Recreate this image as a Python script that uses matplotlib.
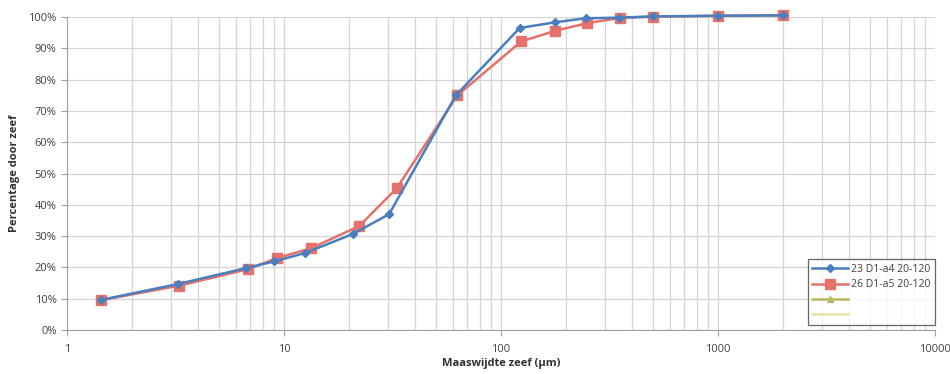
import matplotlib
matplotlib.use('Agg')
import matplotlib.pyplot as plt
from matplotlib.ticker import FixedLocator, LogLocator, NullFormatter

plt.rcParams['font.family'] = ['Open Sans', 'DejaVu Sans']

# Zeefdata
x_a4 = [1.43, 3.25, 6.7, 9.0, 12.5, 20.8, 30.5, 62, 122, 177, 246, 350, 500, 1000, 2000]
y_a4 = [9.6, 14.7, 19.8, 21.9, 24.6, 30.7, 37.0, 75.0, 96.5, 98.3, 99.6, 99.8, 100.2, 100.4, 100.5]
x_a5 = [1.43, 3.3, 6.8, 9.3, 13.3, 22.2, 33.1, 63, 124, 178, 248, 352, 500, 1000, 2000]
y_a5 = [9.5, 14.2, 19.4, 23.0, 26.1, 33.2, 45.3, 75.0, 92.2, 95.6, 98.0, 99.7, 100.1, 100.4, 100.6]

labels = ['23 D1-a4 20-120', '26 D1-a5 20-120', ' ', ' ']
y_ticks = list(range(0, 101, 10))
x_ticks = [1, 10, 100, 1000, 10000]

fig = plt.figure(figsize=(9.5, 3.74), dpi=100)
ax = fig.add_axes([0.0705, 0.1176, 0.9137, 0.8369])

grid_c = '#d4d4d4'
ax.plot(x_a4, y_a4, color='#4a7fbf', lw=1.8, marker='D', ms=4.5, label=labels[0], zorder=4, clip_on=False)
ax.plot(x_a5, y_a5, color='#e4716a', lw=1.8, marker='s', ms=7, label=labels[1], zorder=3, clip_on=False)
# lege reeksen voor de legenda
ax.plot([], [], color='#b8b860', lw=1.8, marker='^', ms=5, label=labels[2])
ax.plot([], [], color='#e8e4a0', lw=1.8, label=labels[3])

ax.set_xscale('log')
ax.set_xlim(1, 10000)
ax.set_ylim(0, 100)
ax.xaxis.set_major_locator(FixedLocator(x_ticks))
ax.xaxis.set_minor_locator(LogLocator(base=10, subs=range(2, 10), numticks=20))
ax.xaxis.set_minor_formatter(NullFormatter())
ax.set_xticks(x_ticks)
ax.set_xticklabels([str(v) for v in x_ticks])
ax.set_yticks(y_ticks)
ax.set_yticklabels([f'{v}%' for v in y_ticks])

ax.grid(True, which='major', color=grid_c, lw=0.9)
ax.grid(True, which='minor', axis='x', color=grid_c, lw=0.9)
ax.set_axisbelow(True)

for s in ['top', 'right']:
    ax.spines[s].set_visible(False)
for s in ['left', 'bottom']:
    ax.spines[s].set_color('#a0a0a0')
ax.tick_params(axis='both', which='major', labelsize=8, colors='#a0a0a0', labelcolor='#404040', length=4)
ax.tick_params(axis='x', which='minor', length=0)
ax.tick_params(axis='x', pad=6)

ax.set_xlabel('Maaswijdte zeef (µm)', fontsize=8, fontweight='bold', color='#303030', labelpad=2)
ax.set_ylabel('Percentage door zeef', fontsize=8, fontweight='bold', color='#303030', labelpad=6)

leg = ax.legend(loc='lower right', bbox_to_anchor=(1.0, 0.015), borderaxespad=0, fontsize=7.5,
                frameon=True, fancybox=False, edgecolor='#404040', handlelength=3.4, borderpad=0.45,
                labelspacing=0.4, handletextpad=0.3)
leg.get_frame().set_linewidth(0.9)
for t in leg.get_texts():
    t.set_color('#404040')

fig.savefig('out.png', dpi=100)
